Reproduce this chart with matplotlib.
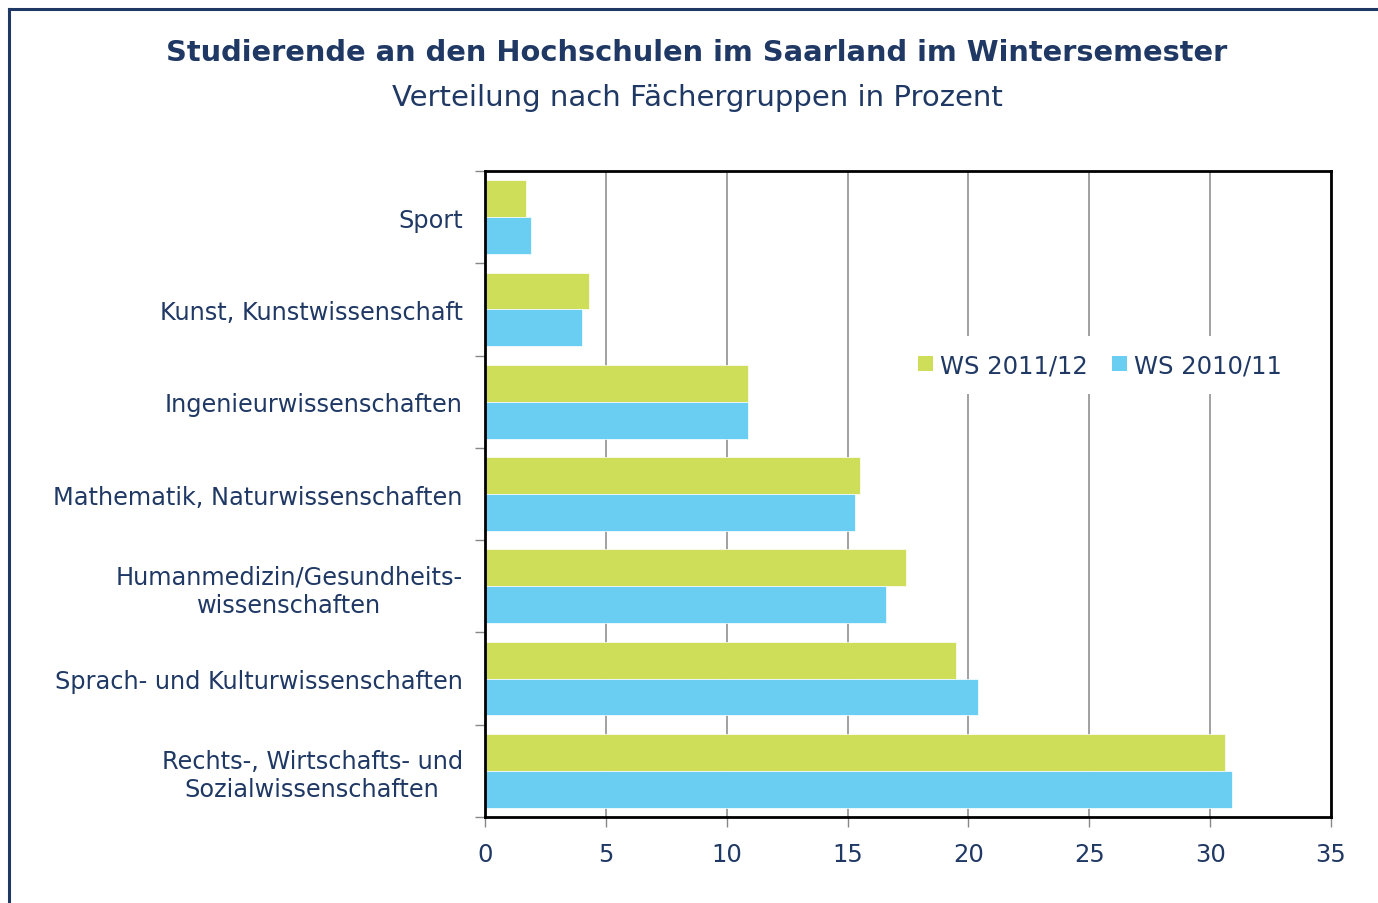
import matplotlib.pyplot as plt
from matplotlib.patches import Patch
from matplotlib.lines import Line2D
import numpy as np

categories = ['Sport', 'Kunst, Kunstwissenschaft', 'Ingenieurwissenschaften',
              'Mathematik, Naturwissenschaften',
              'Humanmedizin/Gesundheits-\nwissenschaften',
              'Sprach- und Kulturwissenschaften',
              'Rechts-, Wirtschafts- und\nSozialwissenschaften']
ws_2011 = [1.7, 4.3, 10.9, 15.5, 17.4, 19.5, 30.6]
ws_2010 = [1.9, 4.0, 10.9, 15.3, 16.6, 20.4, 30.9]
series_names = ['WS 2011/12', 'WS 2010/11']
xticks = [0, 5, 10, 15, 20, 25, 30, 35]

navy = '#1F3864'
green = '#CFDE58'
blue = '#69CEF2'

plt.rcParams['font.family'] = 'DejaVu Sans'

fig = plt.figure(figsize=(13.78, 9.04), dpi=100)

# outer frame (left and top edges visible)
fig.add_artist(Line2D([9/1378, 9/1378], [0, 1 - 10/904], transform=fig.transFigure,
                      color=navy, lw=2.2))
fig.add_artist(Line2D([9/1378, 1], [1 - 10/904, 1 - 10/904], transform=fig.transFigure,
                      color=navy, lw=2.2))

fig.text(697/1378, 1 - 53/904, 'Studierende an den Hochschulen im Saarland im Wintersemester',
         ha='center', va='center', fontsize=20.8, fontweight='bold', color=navy)
fig.text(697/1378, 1 - 98/904, 'Verteilung nach Fächergruppen in Prozent',
         ha='center', va='center', fontsize=21, color=navy)

ax = fig.add_axes([485/1378, 86/904, 846/1378, 646/904])

y = np.arange(len(categories))
ax.barh(y - 0.2, ws_2011, height=0.4, color=green, edgecolor='white', linewidth=0.5,
        zorder=3)
ax.barh(y + 0.2, ws_2010, height=0.4, color=blue, edgecolor='white', linewidth=0.5,
        zorder=3)

ax.set_xlim(0, 35)
ax.set_ylim(len(categories) - 0.5, -0.5)
ax.set_xticks(xticks)
ax.set_xticklabels([str(t) for t in xticks], fontsize=17.5, color=navy)
ax.tick_params(axis='x', length=7, width=1, color='#888888', pad=11)

ax.set_yticks(y)
ax.set_yticklabels(categories, fontsize=17.3, color=navy, multialignment='center',
                   linespacing=1.2)
ax.set_yticks(np.arange(-0.5, len(categories)), minor=True)
ax.tick_params(axis='y', which='major', length=0, pad=16)
ax.tick_params(axis='y', which='minor', length=7, width=1, color='#888888')

ax.grid(axis='x', color='#9a9a9a', lw=1.3, zorder=0)
ax.set_axisbelow(True)
for s in ax.spines.values():
    s.set_linewidth(2)
    s.set_color('black')
    s.set_zorder(5)

handles = [Patch(facecolor=green, edgecolor='none'), Patch(facecolor=blue, edgecolor='none')]
leg = ax.legend(handles, series_names, loc='center', ncol=2,
                bbox_to_anchor=(1100/1378, 1 - 366/904), bbox_transform=fig.transFigure,
                frameon=True, fontsize=17.5, handlelength=0.6, handleheight=0.6,
                handletextpad=0.3, columnspacing=1.0, borderpad=0.7, fancybox=False)
leg.get_frame().set_edgecolor('none')
leg.get_frame().set_facecolor('white')
leg.get_frame().set_alpha(1)
for t in leg.get_texts():
    t.set_color(navy)

fig.savefig('out.png', dpi=100)
